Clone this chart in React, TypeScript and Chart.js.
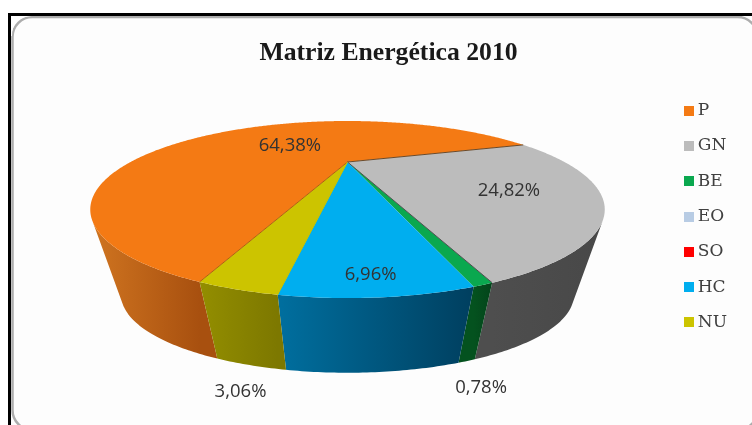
import React, { useEffect, useRef } from "react";
import { Chart, registerables } from "chart.js";

Chart.register(...registerables);

const categories = ["P", "GN", "BE", "EO", "SO", "HC", "NU"];
const shares = [64.38, 24.82, 0.78, 0, 0, 6.96, 3.06];
const valueLabels = ["64,38%", "24,82%", "0,78%", "", "", "6,96%", "3,06%"];
const chartTitle = "Matriz Energética 2010";

const topColors = ["#f47a14", "#bcbcbc", "#0aa84f", "#b8cce4", "#ff0000", "#00aeef", "#ccc400"];
const sideLeft = ["#cf7420", "#4e4e4e", "#04521f", "#6e8aa8", "#a00000", "#006f9f", "#938e00"];
const sideRight = ["#a8500f", "#484848", "#03441a", "#6e8aa8", "#a00000", "#003f5f", "#7d7800"];
const startEdgeColors = ["#b0600f", "#6b4a2a", "#505050", "", "", "", "#c0c000"];
// r: radial fraction on the top face; drop: px below the rim for outside labels
const labelPlacement = [
  { r: 0.444, dx: 0, drop: 1 },
  { r: 0.7, dx: -2, drop: 5 },
  { r: 1, dx: -2, drop: 103 },
  { r: 0, dx: 0, drop: 0 },
  { r: 0, dx: 0, drop: 0 },
  { r: 0.915, dx: -3, drop: 0 },
  { r: 1, dx: 4, drop: 102 },
];

// perspective of the 3D pie
const X0 = 347.5, Y0 = 162, K = 0.537, A = 217, B = 63;
const BOTTOM_Y = 253, BOTTOM_SCALE = 0.88;

const project = (angle: number, r = 1): [number, number] => {
  const u = r * Math.cos(angle), v = r * Math.sin(angle), w = 1 - K * v;
  return [X0 + (A * u) / w, Y0 + (B * v) / w];
};
const lower = (p: [number, number]): [number, number] => [
  X0 + (p[0] - X0) * BOTTOM_SCALE,
  BOTTOM_Y + (p[1] - Y0) * BOTTOM_SCALE,
];
const rim = (a0: number, a1: number) => {
  const n = Math.max(2, Math.ceil(Math.abs(a1 - a0) / 0.01));
  const pts: number[] = [];
  for (let i = 0; i <= n; i++) pts.push(a0 + ((a1 - a0) * i) / n);
  return pts;
};
// a rim point shows a wall only where the wall's edge crosses the rim outward
const wallVisible = (angle: number) => {
  const p = project(angle);
  const q = lower(p);
  const n = project(angle + 0.001);
  return (q[0] - p[0]) * (n[1] - p[1]) - (q[1] - p[1]) * (n[0] - p[0]) > 0;
};

const swatch = (color: string) => {
  const c = document.createElement("canvas");
  c.width = 10;
  c.height = 10;
  const x = c.getContext("2d")!;
  x.fillStyle = color;
  x.fillRect(0, 0, 10, 10);
  return c;
};

const pie3d = {
  id: "pie3d",
  beforeDraw(chart: any) {
    const { ctx, width, height } = chart;
    ctx.save();
    ctx.fillStyle = "#ffffff";
    ctx.fillRect(0, 0, width, height);
    ctx.fillStyle = "#fdfdfd";
    ctx.fillRect(11, 16, width - 11, height - 16);
    ctx.strokeStyle = "#adadad";
    ctx.lineWidth = 2.5;
    ctx.beginPath();
    ctx.roundRect(12.5, 17, 745, 413, 20);
    ctx.stroke();
    ctx.fillStyle = "#ffffff";
    ctx.beginPath();
    ctx.moveTo(11, 16);
    ctx.lineTo(32, 16);
    ctx.quadraticCurveTo(12, 17, 12, 36);
    ctx.lineTo(11, 36);
    ctx.closePath();
    ctx.fill();
    ctx.strokeStyle = "#000000";
    ctx.lineWidth = 3;
    ctx.beginPath();
    ctx.moveTo(9.5, height + 2);
    ctx.lineTo(9.5, 14.5);
    ctx.lineTo(width + 2, 14.5);
    ctx.stroke();
    ctx.restore();
  },
  beforeDatasetDraw(chart: any) {
    const { ctx } = chart;
    const arcs = chart.getDatasetMeta(0).data;
    ctx.save();
    arcs.forEach((arc: any, i: number) => {
      if (!shares[i]) return;
      const pts = rim(arc.startAngle, arc.endAngle).filter(wallVisible);
      if (pts.length < 2) return;
      const xs = pts.map((a) => project(a)[0]);
      const g = ctx.createLinearGradient(Math.min(...xs), 0, Math.max(...xs), 0);
      g.addColorStop(0, sideLeft[i]);
      g.addColorStop(1, sideRight[i]);
      ctx.fillStyle = g;
      ctx.beginPath();
      pts.forEach((a, j) => {
        const p = project(a);
        if (j) ctx.lineTo(p[0], p[1]);
        else ctx.moveTo(p[0], p[1]);
      });
      [...pts].reverse().forEach((a) => {
        const p = lower(project(a));
        ctx.lineTo(p[0], p[1]);
      });
      ctx.closePath();
      ctx.fill();
    });
    arcs.forEach((arc: any, i: number) => {
      if (!shares[i]) return;
      ctx.fillStyle = topColors[i];
      ctx.beginPath();
      ctx.moveTo(X0, Y0);
      rim(arc.startAngle, arc.endAngle).forEach((a) => {
        const p = project(a);
        ctx.lineTo(p[0], p[1]);
      });
      ctx.closePath();
      ctx.fill();
    });
    arcs.forEach((arc: any, i: number) => {
      if (!shares[i] || !startEdgeColors[i]) return;
      const e = project(arc.startAngle);
      ctx.strokeStyle = startEdgeColors[i];
      ctx.lineWidth = 1;
      ctx.beginPath();
      ctx.moveTo(e[0], e[1]);
      ctx.lineTo(X0, Y0);
      ctx.stroke();
    });
    ctx.font = '18.5px "Open Sans"';
    ctx.fillStyle = "#333333";
    ctx.textAlign = "center";
    ctx.textBaseline = "middle";
    arcs.forEach((arc: any, i: number) => {
      if (!valueLabels[i]) return;
      const place = labelPlacement[i];
      const p = project((arc.startAngle + arc.endAngle) / 2, place.r);
      ctx.fillText(valueLabels[i], p[0] + place.dx, p[1] + place.drop);
    });
    ctx.restore();
    return false;
  },
};

export default function App() {
  const ref = useRef<HTMLCanvasElement>(null);
  useEffect(() => {
    document.body.style.margin = "0";
    const baseLabels = (Chart as any).overrides.pie.plugins.legend.labels.generateLabels;
    const chart = new Chart(ref.current!, {
      type: "pie",
      data: {
        labels: categories,
        datasets: [{ data: shares, backgroundColor: topColors, borderWidth: 0 }],
      },
      plugins: [pie3d],
      options: {
        animation: false,
        responsive: false,
        rotation: 199.7,
        layout: { padding: { left: 40, right: 15, top: 38, bottom: 30 } },
        plugins: {
          title: {
            display: true,
            text: chartTitle,
            color: "#1a1a1a",
            font: { family: '"Liberation Serif"', size: 25.7, weight: "bold" },
            padding: { top: 0, bottom: 0 },
          },
          legend: {
            position: "right",
            labels: {
              color: "#404040",
              font: { family: '"DejaVu Serif"', size: 17 },
              usePointStyle: true,
              pointStyleWidth: 1,
              boxHeight: 10,
              padding: 18.3,
              generateLabels: (c: any) =>
                baseLabels(c).map((item: any, i: number) => ({
                  ...item,
                  pointStyle: swatch(topColors[i]),
                })),
            },
          },
          tooltip: { enabled: false },
        },
      },
    } as any);
    return () => chart.destroy();
  }, []);
  return (
    <canvas ref={ref} width={752} height={425} style={{ display: "block", filter: "blur(0.4px)" }} />
  );
}
